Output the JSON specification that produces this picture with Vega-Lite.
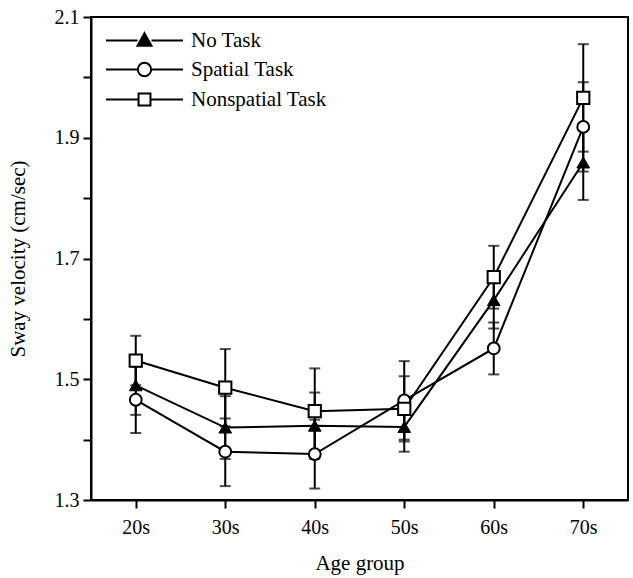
{
  "$schema": "https://vega.github.io/schema/vega-lite/v6.json",
  "autosize": "none",
  "padding": {"left": 91, "top": 17, "right": 5, "bottom": 78},
  "width": 537,
  "height": 483,
  "background": "white",
  "config": {
    "view": {"stroke": "black", "strokeWidth": 2},
    "font": "Liberation Serif",
    "axis": {
      "grid": false,
      "domainColor": "black",
      "domainWidth": 2,
      "tickColor": "black",
      "tickWidth": 2,
      "tickSize": 8,
      "labelFont": "Liberation Serif",
      "labelFontSize": 20,
      "labelColor": "black",
      "titleFont": "Liberation Serif",
      "titleFontSize": 21,
      "titleFontWeight": "normal",
      "titleColor": "black"
    },
    "legend": {
      "labelFont": "Liberation Serif",
      "labelFontSize": 21,
      "labelColor": "black"
    }
  },
  "data": {
    "values": [
      {"age": "20s", "task": "No Task", "mean": 1.49, "lo": 1.441, "hi": 1.539},
      {"age": "20s", "task": "Spatial Task", "mean": 1.466, "lo": 1.411, "hi": 1.521},
      {"age": "20s", "task": "Nonspatial Task", "mean": 1.531, "lo": 1.49, "hi": 1.572},
      {"age": "30s", "task": "No Task", "mean": 1.42, "lo": 1.368, "hi": 1.472},
      {"age": "30s", "task": "Spatial Task", "mean": 1.38, "lo": 1.323, "hi": 1.435},
      {"age": "30s", "task": "Nonspatial Task", "mean": 1.486, "lo": 1.422, "hi": 1.55},
      {"age": "40s", "task": "No Task", "mean": 1.423, "lo": 1.368, "hi": 1.478},
      {"age": "40s", "task": "Spatial Task", "mean": 1.376, "lo": 1.319, "hi": 1.433},
      {"age": "40s", "task": "Nonspatial Task", "mean": 1.447, "lo": 1.376, "hi": 1.518},
      {"age": "50s", "task": "No Task", "mean": 1.421, "lo": 1.38, "hi": 1.462},
      {"age": "50s", "task": "Spatial Task", "mean": 1.465, "lo": 1.4, "hi": 1.53},
      {"age": "50s", "task": "Nonspatial Task", "mean": 1.451, "lo": 1.397, "hi": 1.505},
      {"age": "60s", "task": "No Task", "mean": 1.631, "lo": 1.584, "hi": 1.678},
      {"age": "60s", "task": "Spatial Task", "mean": 1.551, "lo": 1.508, "hi": 1.594},
      {"age": "60s", "task": "Nonspatial Task", "mean": 1.669, "lo": 1.617, "hi": 1.721},
      {"age": "70s", "task": "No Task", "mean": 1.859, "lo": 1.797, "hi": 1.921},
      {"age": "70s", "task": "Spatial Task", "mean": 1.918, "lo": 1.844, "hi": 1.992},
      {"age": "70s", "task": "Nonspatial Task", "mean": 1.966, "lo": 1.877, "hi": 2.055}
    ]
  },
  "encoding": {
    "x": {
      "field": "age",
      "type": "ordinal",
      "sort": ["20s", "30s", "40s", "50s", "60s", "70s"],
      "scale": {"type": "point", "padding": 0.5},
      "axis": {"title": "Age group", "labelAngle": 0, "labelPadding": 9, "titlePadding": 15}
    }
  },
  "layer": [
    {
      "mark": {"type": "line", "color": "black", "strokeWidth": 2},
      "encoding": {
        "y": {
          "field": "mean",
          "type": "quantitative",
          "scale": {"domain": [1.3, 2.1], "nice": false, "zero": false},
          "axis": {
            "title": "Sway velocity (cm/sec)",
            "values": [1.3, 1.4, 1.5, 1.6, 1.7, 1.8, 1.9, 2.0, 2.1],
            "labelExpr": "round(datum.value*10) % 2 == 1 ? format(datum.value, '.1f') : ''",
            "labelPadding": 4,
            "titlePadding": 26
          }
        },
        "detail": {"field": "task", "type": "nominal"}
      }
    },
    {
      "mark": {
        "type": "errorbar",
        "color": "black",
        "ticks": {"size": 11, "thickness": 2, "color": "black"},
        "rule": {"strokeWidth": 2, "color": "black"}
      },
      "encoding": {
        "y": {"field": "lo", "type": "quantitative", "title": "Sway velocity (cm/sec)"},
        "y2": {"field": "hi"},
        "detail": {"field": "task", "type": "nominal"}
      }
    },
    {
      "transform": [{"filter": "datum.task == 'No Task'"}],
      "mark": {"type": "point", "shape": "triangle-up", "filled": true, "fill": "black", "stroke": "black", "strokeWidth": 1, "size": 160, "opacity": 1},
      "encoding": {
        "y": {"field": "mean", "type": "quantitative", "title": "Sway velocity (cm/sec)"}
      }
    },
    {
      "transform": [{"filter": "datum.task == 'Spatial Task'"}],
      "mark": {"type": "point", "shape": "circle", "filled": false, "fill": "white", "stroke": "black", "strokeWidth": 2, "size": 140, "opacity": 1},
      "encoding": {
        "y": {"field": "mean", "type": "quantitative", "title": "Sway velocity (cm/sec)"}
      }
    },
    {
      "transform": [{"filter": "datum.task == 'Nonspatial Task'"}],
      "mark": {"type": "point", "shape": "square", "filled": false, "fill": "white", "stroke": "black", "strokeWidth": 2, "size": 150, "opacity": 1},
      "encoding": {
        "y": {"field": "mean", "type": "quantitative", "title": "Sway velocity (cm/sec)"}
      }
    },
    {
      "transform": [{"filter": "false"}],
      "mark": {"type": "point", "filled": false, "strokeWidth": 2, "opacity": 1},
      "encoding": {
        "shape": {
          "field": "task",
          "type": "nominal",
          "scale": {
            "domain": ["No Task", "Spatial Task", "Nonspatial Task"],
            "range": [
              "M-5.5,0L-1,0M1,0L5.5,0M0,-1.05L1,0.75L-1,0.75Z",
              "M-5.5,0L-0.95,0M0.95,0L5.5,0M0.95,0A0.95,0.95,0,1,1,-0.95,0A0.95,0.95,0,1,1,0.95,0Z",
              "M-5.5,0L-0.85,0M0.85,0L5.5,0M-0.85,-0.85L0.85,-0.85L0.85,0.85L-0.85,0.85Z"
            ]
          },
          "legend": {
            "title": null,
            "orient": "none",
            "legendX": 43,
            "legendY": 13,
            "symbolSize": 196,
            "symbolStrokeWidth": 2,
            "labelOffset": 36,
            "rowPadding": 7
          }
        },
        "fill": {
          "field": "task",
          "type": "nominal",
          "scale": {"domain": ["No Task", "Spatial Task", "Nonspatial Task"], "range": ["black", "white", "white"]},
          "legend": {
            "title": null,
            "orient": "none",
            "legendX": 43,
            "legendY": 13,
            "symbolSize": 196,
            "symbolStrokeWidth": 2,
            "labelOffset": 36,
            "rowPadding": 7
          }
        },
        "stroke": {
          "field": "task",
          "type": "nominal",
          "scale": {"domain": ["No Task", "Spatial Task", "Nonspatial Task"], "range": ["black", "black", "black"]},
          "legend": {
            "title": null,
            "orient": "none",
            "legendX": 43,
            "legendY": 13,
            "symbolSize": 196,
            "symbolStrokeWidth": 2,
            "labelOffset": 36,
            "rowPadding": 7
          }
        }
      }
    }
  ]
}
